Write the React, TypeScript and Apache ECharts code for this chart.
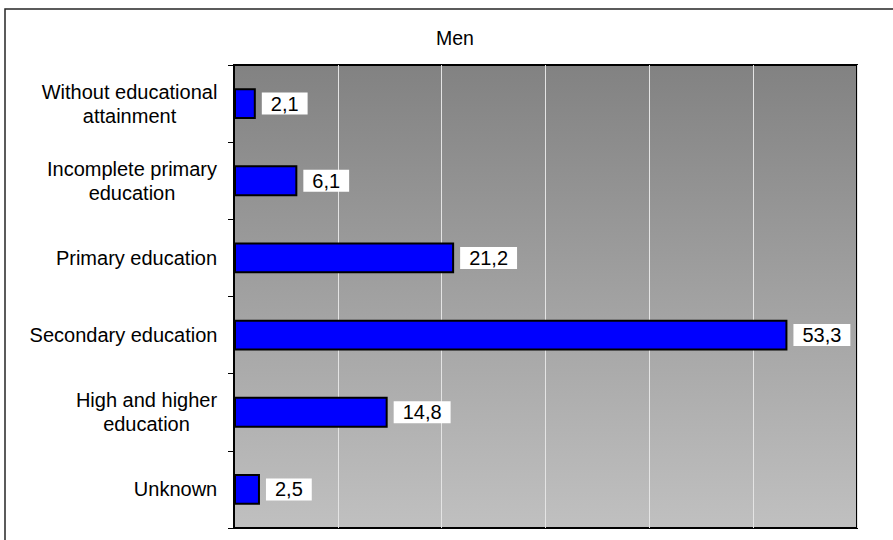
import React, { useEffect, useRef } from "react";
import * as echarts from "echarts";

const categories: string[] = [
  "Without educational\nattainment",
  "Incomplete primary\neducation",
  "Primary education",
  "Secondary education",
  "High and higher\neducation",
  "Unknown",
];
const values: number[] = [2.1, 6.1, 21.2, 53.3, 14.8, 2.5];
const titleText = "Men";
const axisMax = 60;
const axisInterval = 10;

const FONT = '"Liberation Sans", Arial, Helvetica, sans-serif';
const FS = 20;

function measure(text: string): number {
  const c = document.createElement("canvas");
  const ctx = c.getContext("2d");
  if (!ctx) return text.length * FS * 0.5;
  ctx.font = `${FS}px "Liberation Sans"`;
  return ctx.measureText(text).width;
}

export default function App() {
  const ref = useRef<HTMLDivElement>(null);
  useEffect(() => {
    if (!ref.current) return;
    const chart = echarts.init(ref.current, undefined, { renderer: "svg" });
    const rich: Record<string, any> = {};
    categories.forEach((c, i) => {
      const w = Math.max(...c.split("\n").map(measure));
      rich["c" + i] = {
        width: Math.ceil(w) + 1,
        align: "center",
        fontSize: FS,
        fontFamily: FONT,
        color: "#000",
        lineHeight: 24,
      };
    });
    chart.setOption({
      animation: false,
      backgroundColor: "#fff",
      textStyle: { fontFamily: FONT },
      graphic: [
        {
          type: "rect",
          shape: { x: 5, y: 9, width: 940, height: 600 },
          style: { fill: "none", stroke: "#262626", lineWidth: 1.5 },
          silent: true,
        },
        {
          type: "text",
          x: 455,
          y: 38,
          style: {
            text: titleText,
            fontSize: 19.5,
            fontFamily: FONT,
            fill: "#000",
            textAlign: "center",
            textVerticalAlign: "middle",
          },
        },
      ],
      grid: {
        left: 234,
        top: 65,
        width: 623,
        height: 463,
        show: true,
        borderColor: "#000",
        borderWidth: 2,
        backgroundColor: {
          type: "linear",
          x: 0,
          y: 0,
          x2: 0,
          y2: 1,
          colorStops: [
            { offset: 0, color: "#828282" },
            { offset: 1, color: "#c0c0c0" },
          ],
        },
      },
      xAxis: {
        type: "value",
        min: 0,
        max: axisMax,
        interval: axisInterval,
        axisLabel: { show: false },
        axisTick: { show: false },
        axisLine: { show: false },
        splitLine: { show: true, lineStyle: { color: "#e4e4e4", width: 1 } },
      },
      yAxis: {
        type: "category",
        inverse: true,
        data: categories,
        axisLine: { show: true, lineStyle: { color: "#000", width: 2 } },
        axisTick: { show: true, length: 6, lineStyle: { color: "#000", width: 1 } },
        axisLabel: {
          margin: 16,
          align: "right",
          fontSize: FS,
          fontFamily: FONT,
          color: "#000",
          lineHeight: 24,
          formatter: (v: string, i: number) =>
            v
              .split("\n")
              .map((l) => `{c${i}|${l}}`)
              .join("\n"),
          rich,
        },
      },
      series: [
        {
          type: "bar",
          data: values,
          barWidth: "40%",
          itemStyle: { color: "#0000ff", borderColor: "#000", borderWidth: 2 },
          label: {
            show: true,
            position: "right",
            distance: 6,
            backgroundColor: "#fff",
            color: "#000",
            fontSize: FS,
            fontFamily: FONT,
            lineHeight: 20,
            padding: [1, 9, 1, 9],
            formatter: (p: any) => String(p.value).replace(".", ","),
          },
        },
      ],
    });
    return () => chart.dispose();
  }, []);
  return (
    <div
      ref={ref}
      style={{ position: "fixed", left: 0, top: 0, width: 893, height: 540 }}
    />
  );
}
